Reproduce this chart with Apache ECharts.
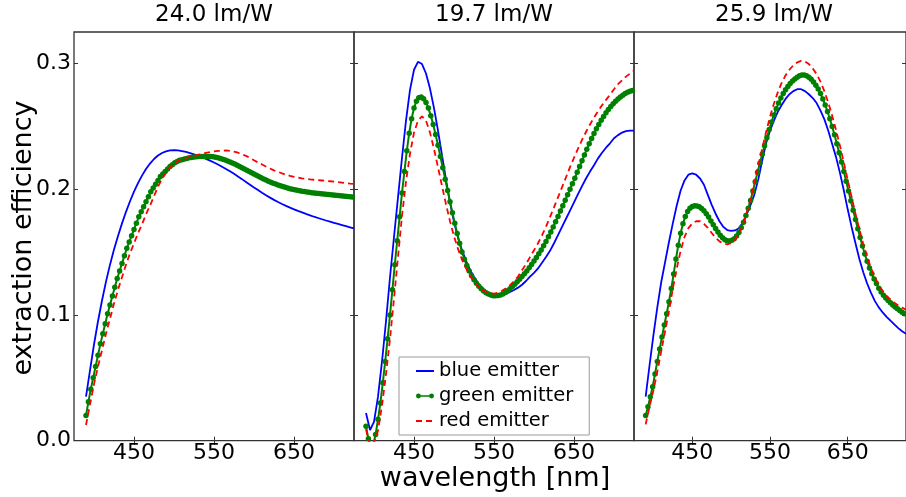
<!DOCTYPE html>
<html><head><meta charset="utf-8">
<script src="https://cdn.jsdelivr.net/npm/echarts@6/dist/echarts.min.js"></script>
<style>html,body{margin:0;padding:0;background:#fff}#c{width:906px;height:497px}</style>
</head><body><div id="c"></div>
<script>
// ---- data ----
const panelTitles = ['24.0 lm/W', '19.7 lm/W', '25.9 lm/W'];
const seriesNames = ['blue emitter', 'green emitter', 'red emitter'];
const xTickValues = [450, 550, 650];
const yTickValues = [0, 0.1, 0.2, 0.3];

// wavelength grid for the blue and red curves (nm)
const wl5 = [390,395,400,405,410,415,420,425,430,435,
             440,445,450,455,460,465,470,475,480,485,
             490,495,500,505,510,515,520,525,530,535,
             540,545,550,555,560,565,570,575,580,585,
             590,595,600,605,610,615,620,625,630,635,
             640,645,650,655,660,665,670,675,680,685,
             690,695,700,705,710,715,720,725];
// wavelength grid for the green (marked) curves (nm)
const wl3 = [390,393,396,399,402,405,408,411,414,417,
             420,423,426,429,432,435,438,441,444,447,
             450,453,456,459,462,465,468,471,474,477,
             480,483,486,489,492,495,498,501,504,507,
             510,513,516,519,522,525,528,531,534,537,
             540,543,546,549,552,555,558,561,564,567,
             570,573,576,579,582,585,588,591,594,597,
             600,603,606,609,612,615,618,621,624,627,
             630,633,636,639,642,645,648,651,654,657,
             660,663,666,669,672,675,678,681,684,687,
             690,693,696,699,702,705,708,711,714,717,
             720,723];

// panel 1 (24.0 lm/W)
const blue1 = [0.035,0.056,0.0765,0.0950,0.1115,0.1265,0.1400,0.1520,0.1628,0.1728,
               0.1820,0.1904,0.1980,0.2048,0.2108,0.2160,0.2204,0.2240,0.2268,0.2288,
               0.2301,0.2308,0.2310,0.2308,0.2303,0.2296,0.2287,0.2277,0.2266,0.2254,
               0.2241,0.2227,0.2212,0.2196,0.2179,0.2161,0.2142,0.2122,0.2101,0.2080,
               0.2058,0.2036,0.2014,0.1993,0.1972,0.1952,0.1933,0.1915,0.1898,0.1882,
               0.1867,0.1853,0.1840,0.1827,0.1815,0.1803,0.1792,0.1781,0.1771,0.1761,
               0.1751,0.1742,0.1733,0.1724,0.1715,0.1706,0.1697,0.1688];
const green1 = [0.020,0.031,0.041,0.050,0.059,0.068,0.077,0.085,0.093,0.101,
                0.108,0.115,0.122,0.129,0.135,0.141,0.147,0.153,0.158,0.163,
                0.168,0.173,0.178,0.182,0.186,0.190,0.194,0.198,0.201,0.204,
                0.207,0.210,0.212,0.214,0.216,0.218,0.2195,0.221,0.222,0.223,
                0.2235,0.224,0.2245,0.225,0.2253,0.2256,0.2258,0.226,0.226,0.226,
                0.226,0.226,0.2259,0.2257,0.2254,0.2250,0.2245,0.2239,0.2232,0.2225,
                0.2217,0.2209,0.2200,0.2191,0.2181,0.2171,0.2161,0.2151,0.2141,0.2131,
                0.2121,0.2111,0.2101,0.2091,0.2082,0.2073,0.2064,0.2056,0.2048,0.2041,
                0.2034,0.2027,0.2021,0.2015,0.2009,0.2004,0.1999,0.1995,0.1991,0.1987,
                0.1984,0.1981,0.1978,0.1975,0.1972,0.1970,0.1968,0.1966,0.1963,0.1961,
                0.1959,0.1957,0.1955,0.1953,0.1951,0.1949,0.1947,0.1945,0.1943,0.1941,
                0.1939,0.1937];
const red1 = [0.0125,0.029,0.045,0.059,0.072,0.085,0.097,0.109,0.120,0.130,
              0.140,0.149,0.157,0.165,0.172,0.180,0.187,0.1945,0.202,0.208,
              0.213,0.217,0.2205,0.2225,0.224,0.225,0.2258,0.2265,0.2273,0.228,
              0.2288,0.2295,0.230,0.2304,0.2307,0.2308,0.2305,0.2298,0.229,0.2278,
              0.2265,0.2248,0.223,0.2213,0.2197,0.218,0.2165,0.215,0.2138,0.2126,
              0.2115,0.2106,0.2098,0.2092,0.2086,0.2082,0.2078,0.2075,0.2072,0.2069,
              0.2066,0.2063,0.206,0.2056,0.2053,0.2049,0.2045,0.2042];

// panel 2 (19.7 lm/W)
const blue2 = [0.022,0.0085,0.015,0.035,0.063,0.095,0.130,0.162,0.1935,0.225,
               0.2545,0.2790,0.2950,0.3013,0.2995,0.2920,0.2800,0.2645,0.2465,0.2270,
               0.2075,0.1895,0.1740,0.1615,0.1515,0.1430,0.1360,0.1302,0.1254,0.1216,
               0.1186,0.1162,0.1152,0.1150,0.1156,0.1167,0.1182,0.1199,0.1217,0.1240,
               0.1270,0.1305,0.1335,0.1370,0.1415,0.1460,0.1510,0.1570,0.1635,0.1700,
               0.1765,0.1830,0.1895,0.1960,0.2025,0.2085,0.2140,0.2190,0.2245,0.2290,
               0.2330,0.2365,0.2405,0.2430,0.2450,0.2462,0.2466,0.2466];
const green2 = [0.0115,0.0015,-0.004,-0.003,0.005,0.017,0.030,0.046,0.063,0.081,
                0.100,0.120,0.140,0.159,0.178,0.197,0.214,0.2305,0.2445,0.2560,
                0.2645,0.2700,0.2727,0.2733,0.2720,0.2690,0.2645,0.2585,0.2515,0.2435,
                0.2350,0.2260,0.2170,0.2080,0.1990,0.1900,0.1812,0.1730,0.1648,0.1570,
                0.1500,0.1443,0.1393,0.1350,0.1312,0.1280,0.1252,0.1228,0.1208,0.1191,
                0.1177,0.1166,0.1158,0.1153,0.1152,0.1154,0.1159,0.1167,0.1178,0.1192,
                0.1208,0.1226,0.1245,0.1264,0.1284,0.1305,0.1327,0.1350,0.1375,0.1401,
                0.1428,0.1456,0.1486,0.1517,0.1550,0.1585,0.1622,0.1660,0.1700,0.1741,
                0.1783,0.1826,0.1869,0.1912,0.1955,0.1999,0.2043,0.2088,0.2134,0.2180,
                0.2226,0.2272,0.2317,0.2361,0.2403,0.2443,0.2480,0.2515,0.2548,0.2579,
                0.2608,0.2634,0.2658,0.2680,0.2700,0.2718,0.2734,0.2748,0.2760,0.2770,
                0.2778,0.2784];
const red2 = [0.009,-0.004,-0.002,0.008,0.028,0.053,0.081,0.113,0.146,0.179,
              0.206,0.228,0.245,0.2545,0.258,0.2545,0.2450,0.2320,0.2175,0.2025,
              0.1880,0.1745,0.1625,0.1525,0.1440,0.1370,0.1312,0.1265,0.1228,0.1200,
              0.1182,0.1172,0.1170,0.1177,0.1192,0.1212,0.1237,0.1267,0.1305,0.1355,
              0.1405,0.1460,0.1515,0.1570,0.1632,0.1703,0.1778,0.1855,0.1935,0.2015,
              0.2095,0.2175,0.2250,0.2322,0.2392,0.2455,0.2515,0.2570,0.2620,0.2667,
              0.2710,0.2752,0.2795,0.2835,0.2865,0.2895,0.2920,0.2942];

// panel 3 (25.9 lm/W)
const blue3 = [0.035,0.060,0.084,0.106,0.126,0.142,0.158,0.173,0.187,0.199,
               0.207,0.2115,0.2125,0.2115,0.2085,0.2035,0.1955,0.1875,0.1805,0.1745,
               0.1700,0.1675,0.1668,0.1672,0.1690,0.1735,0.1800,0.1875,0.1960,0.2080,
               0.2230,0.2365,0.2465,0.2545,0.2615,0.2670,0.2718,0.2755,0.2780,0.2795,
               0.2795,0.2780,0.2755,0.2725,0.2685,0.2625,0.2555,0.2465,0.2360,0.2255,
               0.2130,0.1990,0.1840,0.1700,0.1570,0.1445,0.1340,0.1250,0.1175,0.1110,
               0.1060,0.1020,0.0985,0.0955,0.0925,0.0895,0.0870,0.0850];
const green3 = [0.020,0.027,0.035,0.043,0.053,0.063,0.073,0.0825,0.092,0.101,
                0.1105,0.121,0.1325,0.1445,0.1555,0.1650,0.1725,0.1782,0.1822,0.1848,
                0.1862,0.1868,0.1867,0.1860,0.1847,0.1828,0.1805,0.1778,0.1748,0.1718,
                0.1688,0.1660,0.1634,0.1613,0.1598,0.1590,0.1588,0.1593,0.1606,0.1627,
                0.1656,0.1693,0.1738,0.1790,0.1848,0.1910,0.1985,0.2060,0.2135,0.2207,
                0.2278,0.2346,0.2410,0.2475,0.2535,0.2590,0.2640,0.2685,0.2725,0.2760,
                0.2790,0.2817,0.2840,0.2860,0.2877,0.2890,0.2902,0.2908,0.2908,0.2902,
                0.2890,0.2874,0.2853,0.2827,0.2796,0.2760,0.2718,0.2670,0.2618,0.2560,
                0.2498,0.2432,0.2362,0.2290,0.2216,0.2140,0.2063,0.1986,0.1909,0.1833,
                0.1758,0.1685,0.1615,0.1548,0.1485,0.1427,0.1374,0.1327,0.1286,0.1250,
                0.1213,0.1183,0.1157,0.1135,0.1115,0.1097,0.1080,0.1064,0.1049,0.1035,
                0.1022,0.1010];
const red3 = [0.013,0.027,0.040,0.055,0.071,0.087,0.103,0.121,0.137,0.151,
              0.162,0.169,0.1728,0.1745,0.1745,0.1725,0.1693,0.1652,0.1615,0.1585,
              0.1568,0.1562,0.1572,0.1600,0.1645,0.1715,0.1810,0.1925,0.2055,0.2190,
              0.2325,0.2455,0.2575,0.2680,0.2770,0.2845,0.2905,0.2950,0.2985,0.3008,
              0.3020,0.3015,0.2995,0.2960,0.2915,0.2855,0.2778,0.2688,0.2585,0.2470,
              0.2345,0.2212,0.2075,0.1938,0.1805,0.1680,0.1565,0.1462,0.1372,0.1298,
              0.1238,0.1190,0.1152,0.1122,0.1097,0.1076,0.1058,0.1042];

// ---- chart ----
const FONT = '"DejaVu Sans", sans-serif';
const AX = '#333';
const panels = [
  {blue: blue1, green: green1, red: red1},
  {blue: blue2, green: green2, red: red2},
  {blue: blue3, green: green3, red: red3}
];
const gridLefts = [74, 354, 634];
const zip = (xs, ys) => xs.map((x, i) => [x, ys[i]]);

const grid = gridLefts.map(l => ({left: l, top: 32, width: 280, height: 408.7,
  show: true, borderColor: AX, borderWidth: 1.3, containLabel: false}));

const tickStyle = {inside: true, length: 4, lineStyle: {color: AX, width: 1}};
const xAxis = [];
const yAxis = [];
['bottom', 'top'].forEach(pos => {
  gridLefts.forEach((l, i) => {
    xAxis.push({gridIndex: i, type: 'value', min: 375, max: 725, position: pos,
      axisLine: {show: false}, splitLine: {show: false},
      axisTick: Object.assign({customValues: xTickValues}, tickStyle),
      axisLabel: {show: pos === 'bottom', customValues: xTickValues, margin: 2,
        fontSize: 22, fontFamily: FONT, color: '#000'}});
  });
});
['left', 'right'].forEach(pos => {
  gridLefts.forEach((l, i) => {
    yAxis.push({gridIndex: i, type: 'value', min: 0, max: 0.325, position: pos,
      axisLine: {show: false}, splitLine: {show: false},
      axisTick: Object.assign({customValues: yTickValues}, tickStyle),
      axisLabel: {show: pos === 'left' && i === 0, customValues: yTickValues, margin: 3,
        formatter: v => v.toFixed(1), fontSize: 22, fontFamily: FONT, color: '#000'}});
  });
});

const series = [];
panels.forEach((p, i) => {
  series.push({type: 'line', name: seriesNames[0], xAxisIndex: i, yAxisIndex: i,
    data: zip(wl5, p.blue), symbol: 'none', clip: true, z: 2,
    lineStyle: {color: '#0000ff', width: 1.8}, itemStyle: {color: '#0000ff'}});
  series.push({type: 'line', name: seriesNames[1], xAxisIndex: i, yAxisIndex: i,
    data: zip(wl3, p.green), symbol: 'circle', symbolSize: 5.5, showSymbol: true,
    showAllSymbol: true, clip: true, z: 3,
    lineStyle: {color: '#008000', width: 2}, itemStyle: {color: '#008000', borderWidth: 0}});
  series.push({type: 'line', name: seriesNames[2], xAxisIndex: i, yAxisIndex: i,
    data: zip(wl5, p.red), symbol: 'none', clip: true, z: 4,
    lineStyle: {color: '#ff0000', width: 1.8, type: [6, 4]}, itemStyle: {color: '#ff0000'}});
});

const graphic = [];
gridLefts.forEach((l, i) => {
  graphic.push({type: 'text', x: l + 140, y: 15, silent: true,
    style: {text: panelTitles[i], fontSize: 23, fontFamily: FONT, fill: '#000',
      align: 'center', verticalAlign: 'middle'}});
});
graphic.push({type: 'text', x: 24, y: 238, rotation: Math.PI / 2, silent: true,
  style: {text: 'extraction efficiency', fontSize: 27, fontFamily: FONT, fill: '#000',
    align: 'center', verticalAlign: 'middle'}});
graphic.push({type: 'text', x: 495, y: 479, silent: true,
  style: {text: 'wavelength [nm]', fontSize: 27, fontFamily: FONT, fill: '#000',
    align: 'center', verticalAlign: 'middle'}});

// legend icon for the marked line: a marker at each end joined by a line
const markedLineIcon = 'path://M0,3A3,3,0,1,1,6,3A3,3,0,1,1,0,3Z M3,2L19,2L19,4L3,4Z M16,3A3,3,0,1,1,22,3A3,3,0,1,1,16,3Z';

const chart = echarts.init(document.getElementById('c'), null, {renderer: 'canvas'});
chart.setOption({
  animation: false,
  backgroundColor: '#fff',
  grid, xAxis, yAxis, series, graphic,
  legend: {
    data: [
      {name: seriesNames[0], itemStyle: {opacity: 0}},
      {name: seriesNames[1], icon: markedLineIcon},
      {name: seriesNames[2], itemStyle: {opacity: 0}}
    ],
    orient: 'vertical', left: 399, top: 357,
    itemWidth: 18, itemHeight: 14, itemGap: 5, padding: [4, 16, 4, 16],
    borderColor: '#999', borderWidth: 1, backgroundColor: '#fff', selectedMode: false,
    textStyle: {fontSize: 19.5, fontFamily: FONT, color: '#000'}}
});
</script></body></html>
